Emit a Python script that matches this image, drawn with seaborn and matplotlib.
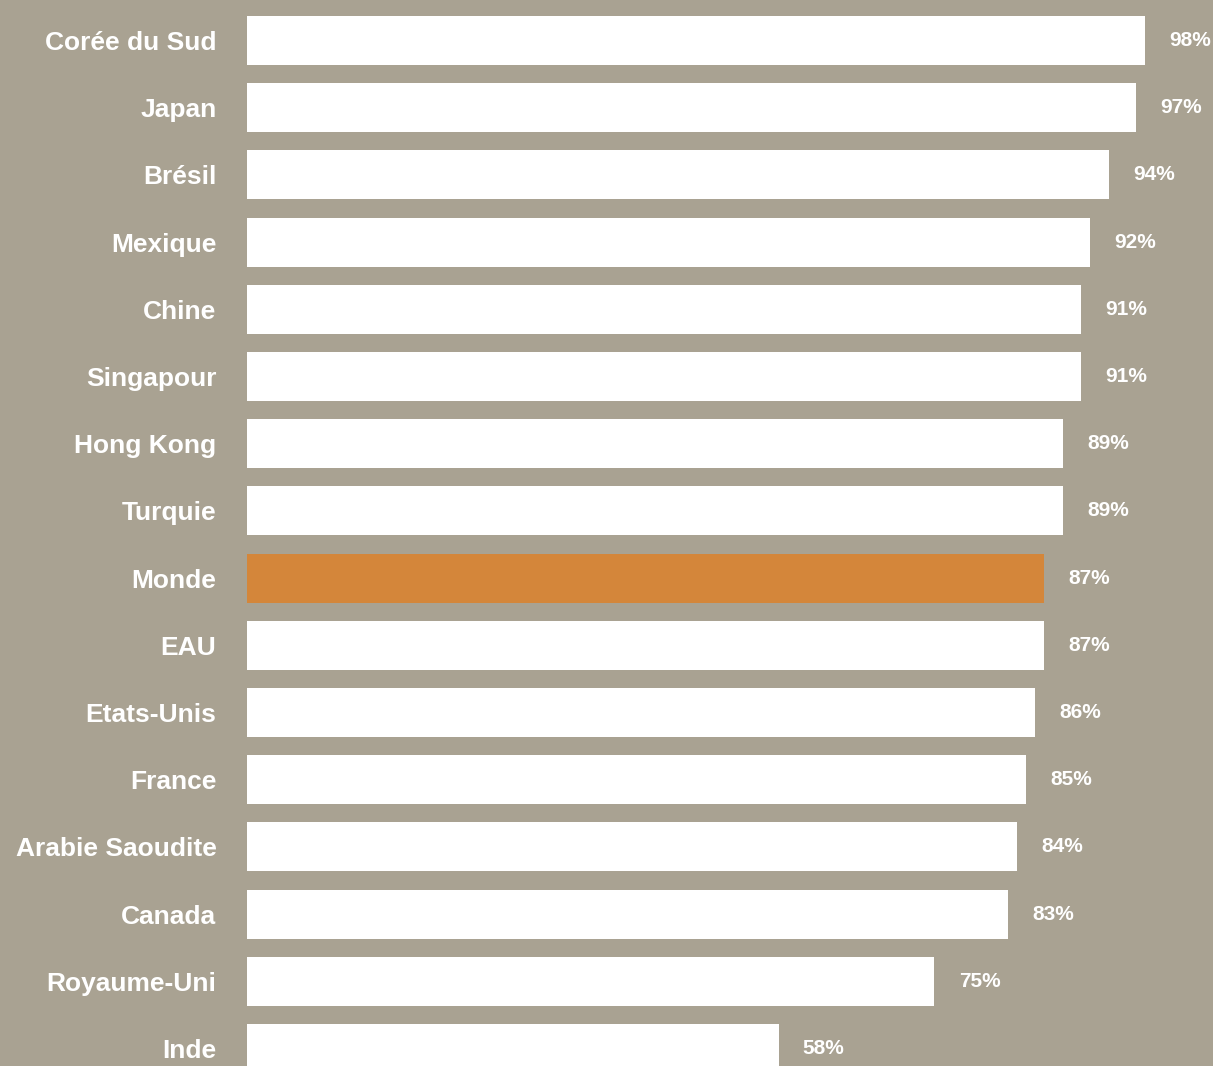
import matplotlib
matplotlib.use("Agg")
import matplotlib.pyplot as plt
import seaborn as sns
import pandas as pd

countries = ["Corée du Sud", "Japan", "Brésil", "Mexique", "Chine", "Singapour",
             "Hong Kong", "Turquie", "Monde", "EAU", "Etats-Unis", "France",
             "Arabie Saoudite", "Canada", "Royaume-Uni", "Inde"]
values = [98, 97, 94, 92, 91, 91, 89, 89, 87, 87, 86, 85, 84, 83, 75, 58]
highlight = "Monde"

BG = "#a9a292"
BAR = "#ffffff"
ACCENT = "#d4863a"

sns.set_theme(style="white")
plt.rcParams["font.family"] = ["Liberation Sans", "DejaVu Sans"]

df = pd.DataFrame({"pays": countries, "valeur": values})
palette = {c: (ACCENT if c == highlight else BAR) for c in countries}

fig = plt.figure(figsize=(12.13, 10.66), dpi=100, facecolor=BG)
ax = fig.add_axes([247 / 1213, 0, 1 - 247 / 1213, 1])
ax.set_facecolor(BG)

sns.barplot(data=df, x="valeur", y="pays", hue="pays", palette=palette,
            legend=False, width=0.73, saturation=1, ax=ax, linewidth=0)

ax.set_xlim(0, 105.4)
ax.set_ylim(15.26, -0.603)
ax.set_xlabel("")
ax.set_ylabel("")
ax.set_xticks([])
sns.despine(ax=ax, left=True, bottom=True)

ax.tick_params(axis="y", length=0, pad=22)
for lab in ax.get_yticklabels():
    lab.set_fontsize(19)
    lab.set_fontweight("bold")
    lab.set_color("white")

for i, v in enumerate(values):
    ax.annotate(f"{v}%", xy=(v, i), xytext=(17.5, 0), textcoords="offset points",
                ha="left", va="center", fontsize=15, fontweight="bold",
                color="white")

fig.savefig("out.png", dpi=100, facecolor=BG)
